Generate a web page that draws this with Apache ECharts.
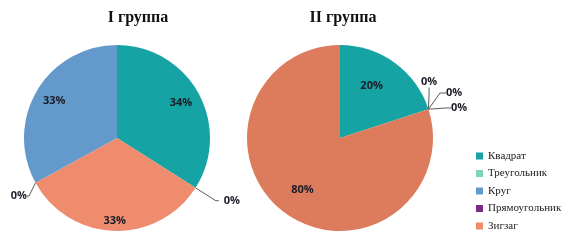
<!DOCTYPE html>
<html><head><meta charset="utf-8">
<script src="https://cdn.jsdelivr.net/npm/echarts@6/dist/echarts.min.js"></script>
<style>html,body{margin:0;padding:0;background:#fff}#c{width:573px;height:240px}</style>
</head><body><div id="c"></div>
<script>
// Categories (legend order)
const categories = ['Квадрат', 'Треугольник', 'Круг', 'Прямоугольник', 'Зигзаг'];
const titles = ['I группа', 'II группа'];
// Group I (clockwise order as drawn)
const group1Names = ['Квадрат', 'Треугольник', 'Зигзаг', 'Прямоугольник', 'Круг'];
const group1Values = [34, 0, 33, 0, 33];
// Group II
const group2Names = ['Квадрат', 'Треугольник', 'Круг', 'Прямоугольник', 'Зигзаг'];
const group2Values = [20, 0, 0, 0, 80];

const colors1 = {'Квадрат':'#16a3a3','Треугольник':'#80d6b2','Круг':'#6399cb','Прямоугольник':'#7a2a86','Зигзаг':'#ef8c6d'};
const colors2 = {'Квадрат':'#16a3a3','Треугольник':'#80d6b2','Круг':'#6399cb','Прямоугольник':'#7a2a86','Зигзаг':'#dd7b5d'};

const labelFont = {fontFamily:'Open Sans', fontWeight:'bold', fontSize:11, color:'#1c1c28'};

// label-line lengths for zero slices, per pie
const zeroLines1 = {'Треугольник':[24,3], 'Прямоугольник':[12,2]};

function mainData(names, values, cols, lines){
  return names.map((n,i)=>{
    const d = {name:n, value:values[i], itemStyle:{color:cols[n]},
      label:{show: values[i]===0}, labelLine:{show: values[i]===0}};
    if (lines && lines[n]) { d.labelLine.length = lines[n][0]; d.labelLine.length2 = lines[n][1]; }
    return d;
  });
}
function overlayData(names, values){
  return names.map((n,i)=>({name:n, value:values[i], label:{show: values[i]>0}}));
}
function pieSeries(names, values, cols, center, innerR, lines, mainLayout, overLayout){
  return [{
    type:'pie', center:center, radius:[0,93], startAngle:90, clockwise:true,
    animation:false, silent:true,
    data: mainData(names, values, cols, lines),
    label:Object.assign({position:'outside', formatter:'{d}%', overflow:'none'}, labelFont),
    labelLine:{length:18, length2:6, lineStyle:{color:'#5a5a5a', width:1}},
    labelLayout: mainLayout
  },{
    type:'pie', center:center, radius:[innerR,93], startAngle:90, clockwise:true,
    animation:false, silent:true,
    data: overlayData(names, values),
    itemStyle:{color:'rgba(0,0,0,0)'},
    label:Object.assign({position:'inside', formatter:'{d}%'}, labelFont),
    labelLine:{show:false},
    labelLayout: overLayout
  }];
}

const chart = echarts.init(document.getElementById('c'), null, {renderer:'canvas'});
chart.setOption({
  backgroundColor:'#fff',
  title:[
    {text:titles[0], left:133, top:5, textAlign:'center', textStyle:{fontFamily:'Liberation Serif', fontWeight:'bold', fontSize:16, color:'#111'}},
    {text:titles[1], left:338, top:5, textAlign:'center', textStyle:{fontFamily:'Liberation Serif', fontWeight:'bold', fontSize:16, color:'#111'}}
  ],
  legend:{
    data:categories, orient:'vertical', left:476, top:149, padding:0,
    icon:'rect', itemWidth:7, itemHeight:7, itemGap:3.5,
    textStyle:{fontFamily:'Liberation Serif', fontSize:11, lineHeight:14, color:'#222'},
    selectedMode:false
  },
  series:[
    ...pieSeries(group1Names, group1Values, colors1, [117,138], 47, zeroLines1,
      p => p.dataIndex === 3 ? {x:27, y:196} : {},
      p => p.dataIndex === 2 ? {dy: 10} : {}),
    ...pieSeries(group2Names, group2Values, colors2, [340,138], 29, null,
      p => ({1:{x:421, y:82}, 2:{x:446, y:93}, 3:{x:451, y:108}})[p.dataIndex] || {},
      p => p.dataIndex === 0 ? {dx:-6} : {})
  ]
});
</script>
</body></html>
